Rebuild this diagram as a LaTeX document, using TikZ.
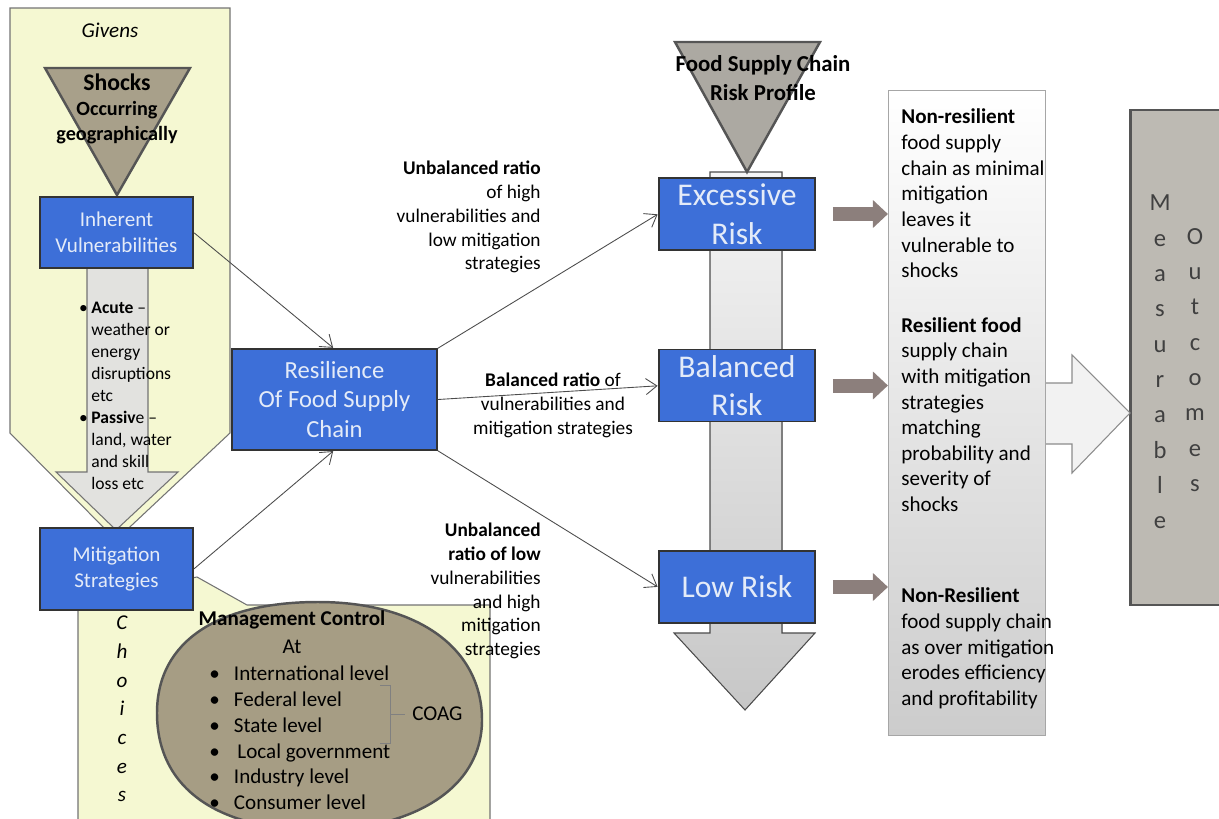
\documentclass[tikz,border=0pt]{standalone}
\usepackage{fontspec}
\setmainfont{Carlito}
\usetikzlibrary{arrows.meta}

\definecolor{givenyellow}{HTML}{F5F8D2}
\definecolor{boxblue}{HTML}{3D6FD8}
\definecolor{boxtext}{HTML}{E4EBF8}
\definecolor{shocktan}{HTML}{A8A08A}
\definecolor{profilegrey}{HTML}{ACA9A2}
\definecolor{shaftgrey}{HTML}{E2E2DF}
\definecolor{mgmttan}{HTML}{A69D84}
\definecolor{outbrown}{HTML}{8C7F7C}
\definecolor{edgegrey}{HTML}{555555}
\definecolor{outgrey}{HTML}{BDBAB3}

\begin{document}
\begin{tikzpicture}[x=0.02cm,y=0.02cm]
\tikzstyle{every node}+=[inner sep=0pt]
\tikzstyle{givenfill}=[fill=givenyellow, draw=black!55, line width=0.6pt]
\tikzstyle{bluebox}=[draw=black!80, line width=1.1pt, fill=boxblue, text=boxtext, align=center, minimum width=3.06cm]
\tikzstyle{riskbox}=[bluebox, minimum width=3.12cm, minimum height=1.44cm, font=\fontsize{18}{22}\selectfont]
\tikzstyle{link}=[draw=black!70, line width=0.5pt, -{Straight Barb[length=2.2mm,width=3.2mm]}]
\tikzstyle{riskarrow}=[draw=outbrown, line width=0.28cm, -{Triangle[length=0.3cm,width=0.54cm]}]
\tikzstyle{ratiotext}=[font=\fontsize{11}{13.6}\selectfont]
\tikzstyle{paneltext}=[anchor=west, align=left, font=\fontsize{12}{14.6}\selectfont]
\useasboundingbox (0,0) rectangle (1219,-818);
% givens column
\filldraw[givenfill] (10,-8) -- (230,-8) -- (230,-433) -- (116,-540) -- (10,-433) -- cycle;
\node (givens) at (110,-30) {\fontsize{12}{14}\selectfont\itshape Givens};
\filldraw[fill=shaftgrey, draw=black!55, line width=0.6pt] (87,-268) -- (148,-268) -- (148,-472) -- (178,-472) -- (116,-530) -- (56,-472) -- (87,-472) -- cycle;
\filldraw[fill=shocktan, draw=edgegrey, line width=1.4pt] (45,-68) -- (190,-68) -- (117,-195) -- cycle;
\node[font=\fontsize{13.5}{16}\selectfont\bfseries] (shocks) at (117,-82) {Shocks};
\node[font=\fontsize{11.5}{14}\selectfont\bfseries] (occur) at (117,-110) {Occurring};
\node[font=\fontsize{11.5}{14}\selectfont\bfseries] (geo) at (117,-135) {geographically};
\node[bluebox, minimum height=1.42cm, font=\fontsize{12}{14.7}\selectfont] (inh) at (116.5,-232.5) {Inherent\\Vulnerabilities};
\node[anchor=west, align=left, font=\fontsize{10}{12.5}\selectfont] (acute) at (91,-352) {\llap{•\hspace{2pt}}\textbf{Acute} –\\weather or\\energy\\disruptions\\etc};
\node[anchor=west, align=left, font=\fontsize{10}{12.5}\selectfont] (passive) at (91,-450) {\llap{•\hspace{2pt}}\textbf{Passiv}e –\\land, water\\and skill\\loss etc};
% choices column
\filldraw[givenfill] (78,-830) -- (78,-600) -- (197,-577) -- (247,-605) -- (490,-605) -- (490,-830) -- cycle;
\node[bluebox, minimum height=1.64cm, font=\fontsize{12}{14.7}\selectfont] (mit) at (116.5,-569) {Mitigation\\Strategies};
\node[align=center, font=\fontsize{12}{16.3}\selectfont\itshape] (choices) at (122,-709) {C\\h\\o\\i\\c\\e\\s};
\filldraw[fill=mgmttan, draw=edgegrey, line width=1.4pt] (157,-713) .. controls (157,-640) and (220,-602) .. (318,-602) .. controls (420,-602) and (482,-650) .. (482,-720) .. controls (482,-790) and (410,-830) .. (318,-830) .. controls (220,-830) and (157,-790) .. cycle;
\node[font=\fontsize{12}{14}\selectfont\bfseries] (mgmt) at (292,-620) {Management Control};
\node[font=\fontsize{12}{14}\selectfont] (at) at (292,-647) {At};
\node[anchor=west, align=left, font=\fontsize{12}{14.7}\selectfont] (levels) at (209,-738) {\makebox[14pt][l]{•}International level\\\makebox[14pt][l]{•}Federal level\\\makebox[14pt][l]{•}State level\\\makebox[14pt][l]{•}\hspace{2pt}Local government\\\makebox[14pt][l]{•}Industry level\\\makebox[14pt][l]{•}Consumer level};
\node[anchor=west, font=\fontsize{12}{14}\selectfont] (coag) at (412,-714) {COAG};
\draw[black!50, line width=0.5pt] (380,-685) -- (390,-685) -- (390,-743) -- (380,-743);
\draw[black!50, line width=0.5pt] (390,-714) -- ([xshift=-0.14cm]coag.west);
% resilience
\node[bluebox, minimum width=4.1cm, minimum height=2.02cm, font=\fontsize{14}{17}\selectfont] (res) at (334.5,-399.5) {Resilience\\Of Food Supply\\Chain};
\draw[link] ([shift={(0.2,-0.35)}]inh.east) -- ([shift={(-1.39,0.22)}]res.north);
\draw[link] ([shift={(0.2,0.28)}]mit.east) -- ([shift={(-1.29,-0.1)}]res.south);
% risk profile
\filldraw[top color=black!4, bottom color=black!22, draw=black!70, line width=0.6pt] (710,-172) -- (782,-172) -- (782,-633) -- (815,-633) -- (745,-710) -- (674,-633) -- (710,-633) -- cycle;
\filldraw[fill=profilegrey, draw=edgegrey, line width=1.4pt] (675,-42) -- (820,-42) -- (747,-172) -- cycle;
\node[align=center, font=\fontsize{13}{16.4}\selectfont\bfseries] (profile) at (763,-78) {Food Supply Chain\\Risk Profile};
\node[riskbox] (exc) at (737,-214) {Excessive\\Risk};
\node[riskbox] (bal) at (737,-385.5) {Balanced\\Risk};
\node[riskbox] (low) at (737,-587) {Low Risk};
\draw[link] ([shift={(0.02,-0.16)}]res.north east) -- ([shift={(-0.42,-0.32)}]exc.west);
\draw[link] (res.east) -- ([shift={(-0.44,-0.31)}]bal.west);
\draw[link] ([shift={(0.02,0.12)}]res.south east) -- ([shift={(-0.42,0.14)}]low.west);
\node[ratiotext, anchor=east, align=right] (ratiohigh) at (541,-217) {\textbf{Unbalanced ratio}\\of high\\vulnerabilities and\\low mitigation\\strategies};
\node[ratiotext, align=center] (ratiobal) at (553,-405) {\textbf{Balanced ratio} of\\vulnerabilities and\\mitigation strategies};
\node[ratiotext, anchor=east, align=right] (ratiolow) at (541,-591) {\textbf{Unbalanced}\\\textbf{ratio of low}\\vulnerabilities\\and high\\mitigation\\strategies};
% resilience outcomes
\node[top color=white, bottom color=black!20, draw=black!35, line width=0.5pt, minimum width=3.14cm, minimum height=12.9cm] (panel) at (966.5,-412.5) {};
\draw[riskarrow] ([xshift=0.34cm]exc.east) -- ([xshift=1.44cm]exc.east);
\draw[riskarrow] ([xshift=0.34cm]bal.east) -- ([xshift=1.44cm]bal.east);
\draw[riskarrow] ([xshift=0.34cm]low.east) -- ([xshift=1.44cm]low.east);
\node[paneltext] (nonres) at (901,-193.5) {\textbf{Non-resilient}\\food supply\\chain as minimal\\mitigation\\leaves it\\vulnerable to\\shocks};
\node[paneltext] (resfood) at (901,-414.5) {\textbf{Resilient food}\\supply chain\\with mitigation\\strategies\\matching\\probability and\\severity of\\shocks};
\node[paneltext] (overmit) at (901,-648.5) {\textbf{Non-Resilient}\\food supply chain\\as over mitigation\\erodes efficiency\\and profitability};
% measurable outcomes
\node[fill=outgrey, draw=edgegrey, line width=1.2pt, minimum width=2.1cm, minimum height=9.9cm] (outbox) at (1183,-357.5) {};
\fill[black!5] (1046,-383) -- (1072,-383) -- (1072,-355) -- (1130,-413) -- (1072,-473) -- (1072,-444) -- (1046,-444) -- cycle;
\draw[black!45, line width=0.6pt] (1046,-383) -- (1072,-383) -- (1072,-355) -- (1130,-413) -- (1072,-473) -- (1072,-444) -- (1046,-444);
\node[align=center, font=\fontsize{14}{20.1}\selectfont, text=black!75] (measurable) at (1160,-362) {M\\e\\a\\s\\u\\r\\a\\b\\l\\e};
\node[align=center, font=\fontsize{14}{20.1}\selectfont, text=black!75] (outcomes) at (1195,-360) {O\\u\\t\\c\\o\\m\\e\\s};
\end{tikzpicture}
\end{document}
